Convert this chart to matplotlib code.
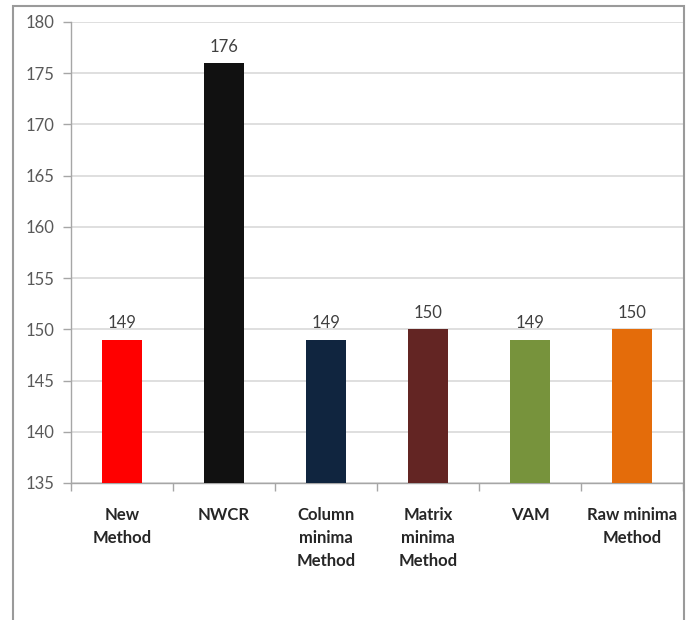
import matplotlib.pyplot as plt
from matplotlib.patches import Rectangle
import numpy as np

methods = ['New\nMethod', 'NWCR', 'Column\nminima\nMethod', 'Matrix\nminima\nMethod', 'VAM', 'Raw minima\nMethod']
values = [149, 176, 149, 150, 149, 150]
colors = ['#FF0000', '#111111', '#10253F', '#632523', '#77933C', '#E46C0A']

plt.rcParams['font.family'] = ['Lato', 'DejaVu Sans']

fig = plt.figure(figsize=(6.91, 6.2), dpi=100)
ax = fig.add_axes([71 / 691, 1 - 483 / 620, 612 / 691, 461 / 620])

x = np.arange(len(values))
ax.bar(x, [v - 135 for v in values], bottom=135, width=0.4, color=colors, zorder=3)
for xi, v in zip(x, values):
    ax.annotate(str(v), (xi, v), xytext=(0, 6), textcoords='offset points',
                ha='center', va='bottom', fontsize=12, color='#404040')

ax.set_ylim(135, 180)
ax.set_xlim(-0.5, len(values) - 0.5)
ax.set_yticks(range(135, 181, 5))
ax.yaxis.grid(True, color='#d9d9d9', lw=1.2, zorder=0)

ax.set_xticks(x)
ax.set_xticklabels(methods, fontweight='bold', fontsize=12, color='#262626', linespacing=1.55)
ax.set_xticks(np.arange(-0.5, len(values), 1.0), minor=True)
ax.tick_params(axis='x', which='major', length=0, pad=17)
ax.tick_params(axis='x', which='minor', length=6, color='#a6a6a6', width=1)
ax.tick_params(axis='y', length=6, color='#a6a6a6', width=1, labelsize=12, labelcolor='#595959', pad=6)

for s in ['top', 'right']:
    ax.spines[s].set_visible(False)
for s in ['left', 'bottom']:
    ax.spines[s].set_color('#a6a6a6')
    ax.spines[s].set_linewidth(1)

# outer chart border
fig.patches.append(Rectangle((13 / 691, -0.05), 671 / 691, 1.05 - 6 / 620,
                             transform=fig.transFigure, fill=False,
                             edgecolor='#9a9a9a', lw=1.5))

fig.savefig('out.png', dpi=100, facecolor='white')
